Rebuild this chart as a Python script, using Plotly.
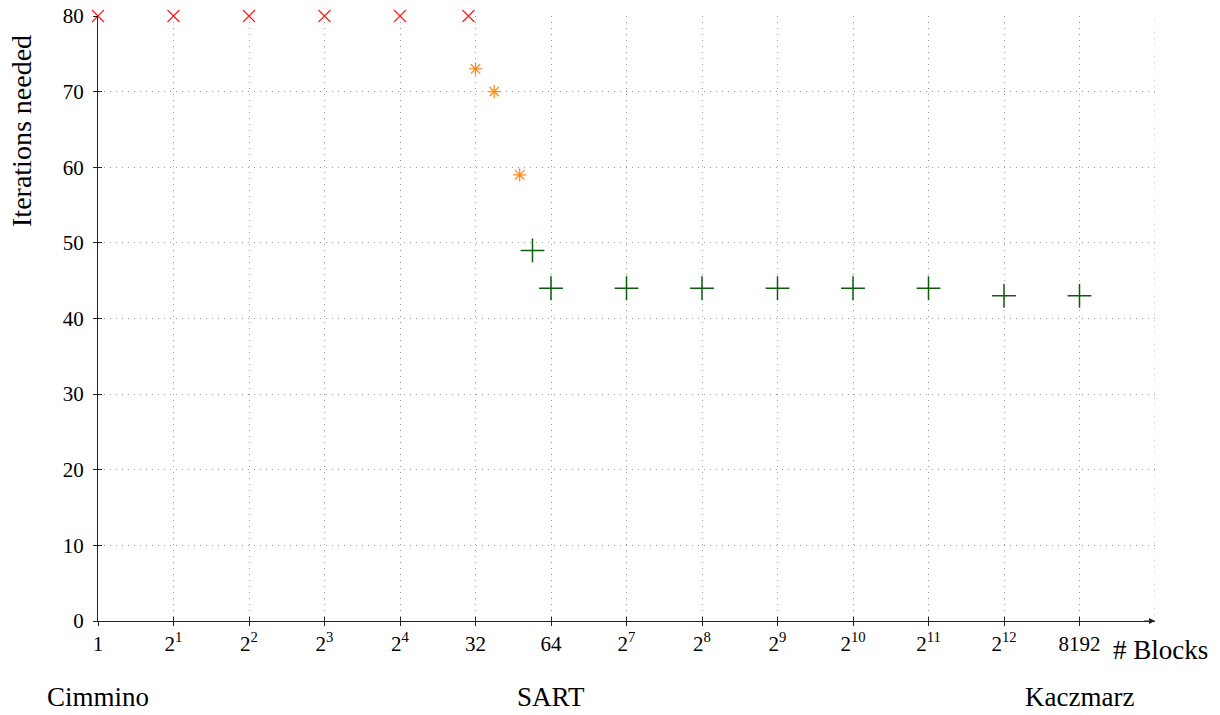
import plotly.graph_objects as go
import math

# Data
red_x = [1, 2, 4, 8, 16, 30]
red_y = [80, 80, 80, 80, 80, 80]
orange_x = [32, 38, 48]
orange_y = [73, 70, 59]
green_x = [54, 64, 128, 256, 512, 1024, 2048, 4096, 8192]
green_y = [49, 44, 44, 44, 44, 44, 44, 43, 43]

tick_vals = [1, 2, 4, 8, 16, 32, 64, 128, 256, 512, 1024, 2048, 4096, 8192]
tick_text = ["1", "2<sup>1</sup>", "2<sup>2</sup>", "2<sup>3</sup>", "2<sup>4</sup>", "32", "64",
             "2<sup>7</sup>", "2<sup>8</sup>", "2<sup>9</sup>", "2<sup>10</sup>", "2<sup>11</sup>",
             "2<sup>12</sup>", "8192"]
y_ticks = [0, 10, 20, 30, 40, 50, 60, 70, 80]
method_x = [1, 64, 8192]
method_labels = ["Cimmino", "SART", "Kaczmarz"]
x_max = 16384

FONT = "Liberation Serif"
GRID = "#999999"
AX = "#222222"

fig = go.Figure()
fig.add_trace(go.Scatter(x=red_x, y=red_y, mode="markers", cliponaxis=False,
                         marker=dict(symbol="x-thin-open", size=12, color="#ff1a1a",
                                     line=dict(width=1.2, color="#ff1a1a")), showlegend=False))
fig.add_trace(go.Scatter(x=orange_x, y=orange_y, mode="markers", cliponaxis=False,
                         marker=dict(symbol="asterisk-open", size=11, color="#ff8c1a",
                                     line=dict(width=1.3, color="#ff8c1a")), showlegend=False))
fig.add_trace(go.Scatter(x=green_x, y=green_y, mode="markers", cliponaxis=False,
                         marker=dict(symbol="cross-thin-open", size=17, color="#0d5c0d",
                                     line=dict(width=1.5, color="#0d5c0d")), showlegend=False))

xr = [0, math.log10(x_max)]
fig.update_layout(
    width=1220, height=715,
    margin=dict(l=98, r=65, t=16, b=94, autoexpand=False),
    plot_bgcolor="white", paper_bgcolor="white",
    font=dict(family=FONT, size=21, color="black"),
    xaxis=dict(type="log", range=xr, tickvals=tick_vals, ticktext=tick_text,
               showgrid=True, gridcolor=GRID, griddash="1px,5px", gridwidth=1,
               showline=True, linecolor=AX, linewidth=1,
               ticks="outside", ticklen=4, tickcolor=AX, ticklabeloverflow="allow",
               zeroline=False, tickfont=dict(size=21)),
    yaxis=dict(range=[0, 80], tickvals=y_ticks,
               showgrid=True, gridcolor=GRID, griddash="1px,5px", gridwidth=1,
               showline=True, linecolor=AX, linewidth=1,
               ticks="outside", ticklen=4, tickcolor=AX, ticklabelstandoff=5,
               ticklabeloverflow="allow",
               zeroline=False, tickfont=dict(size=21)),
    xaxis2=dict(type="log", range=xr, overlaying="x", tickvals=tick_vals, showticklabels=False,
                ticks="inside", ticklen=4, tickcolor=AX, showgrid=False, showline=False,
                zeroline=False),
    yaxis2=dict(range=[0, 80], overlaying="y", tickvals=y_ticks, showticklabels=False,
                ticks="inside", ticklen=4, tickcolor=AX, showgrid=False, showline=False,
                zeroline=False),
)
# invisible trace to activate secondary axes
fig.add_trace(go.Scatter(x=[1], y=[0], xaxis="x2", yaxis="y2", mode="markers",
                         marker=dict(opacity=0), showlegend=False, hoverinfo="skip"))

# right-edge gridline (2^14)
fig.add_shape(type="line", xref="x", yref="y", x0=x_max, x1=x_max, y0=0, y1=80,
              line=dict(color=GRID, width=1, dash="1px,5px"))

# axis arrow
fig.add_annotation(x=math.log10(x_max), y=0, xref="x", yref="y", ax=math.log10(x_max) - 0.05, ay=0,
                   axref="x", ayref="y", showarrow=True, arrowhead=2, arrowsize=1.2,
                   arrowwidth=1, arrowcolor=AX, text="")

# y title
fig.add_annotation(x=-0.0719, y=0.81, xref="paper", yref="paper", text="Iterations needed",
                   textangle=-90, showarrow=False, font=dict(size=28),
                   xanchor="center", yanchor="middle")

fig.add_annotation(x=1.052, y=-0.048, xref="paper", yref="paper", text="# Blocks",
                   showarrow=False, font=dict(size=27), xanchor="right", yanchor="middle")

for mx, ml in zip(method_x, method_labels):
    fig.add_annotation(x=math.log10(mx), y=-0.1256, xref="x", yref="paper", text=ml,
                       showarrow=False, font=dict(size=27), xanchor="center", yanchor="middle")

fig.write_html("out.html", config={"displayModeBar": False},
               post_script="document.body.style.margin='0';")
